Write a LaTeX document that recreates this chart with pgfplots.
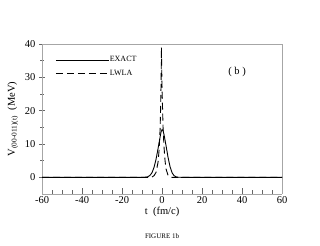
\documentclass[border=0pt]{standalone}
\usepackage{fontspec}
\setmainfont{Liberation Serif}
\usepackage{pgfplots}
\pgfplotsset{compat=1.18}
\begin{document}
\begin{tikzpicture}
\begin{axis}[
  scale only axis, width=240pt, height=150pt,
  xmin=-60, xmax=60, ymin=-5, ymax=40,
  xtick={-60,-40,...,60}, ytick={0,10,...,40},
  minor x tick num=3, minor y tick num=1,
  axis x line*=bottom, axis y line*=left,
  axis line style={gray!70, line width=0.8pt},
  tick style={gray!80!black, line width=0.6pt},
  xtick align=inside, ytick align=center,
  major tick length=6pt, minor tick length=4pt,
  /pgf/number format/assume math mode=true,
  ticklabel style={font=\fontsize{10.5}{12}\selectfont},
  xticklabel style={yshift=1pt},
  xlabel={t\ \ (fm/c)}, ylabel={V\textsubscript{(00-011)(t)}\ \ (MeV)},
  label style={font=\fontsize{10.5}{12}\selectfont},
  xlabel style={yshift=3pt},
  ylabel style={yshift=0pt},
  clip=false,
  legend cell align=left,
  legend style={draw=none, fill=none, at={(rel axis cs:0.055,0.93)}, anchor=north west, font=\fontsize{8}{9}\selectfont, row sep=3pt, inner sep=0pt, nodes={inner xsep=0.5pt}},
  legend image code/.code={\draw[#1] (0pt,0pt) -- (53pt,0pt);},
]
\path[draw=none] (rel axis cs:-0.175,-0.34) rectangle (rel axis cs:1.158,1.293);
\draw[gray!70, line width=0.8pt] (rel axis cs:0,1) -- (rel axis cs:1,1) -- (rel axis cs:1,0);
\addplot[black, line width=0.9pt] coordinates {
(-60,0) (-10,0) (-8,0.05) (-7,0.2) (-6,0.6) (-5,1.4) (-4,3.0) (-3,5.4) (-2,8.6) (-1,12.0) (-0.5,13.6) (0,14.3) (0.5,14.0) (1,12.8) (2,9.5) (3,6.0) (4,3.2) (5,1.4) (6,0.5) (7,0.15) (8,0.03) (10,0) (60,0)};
\addlegendentry{EXACT}
\addplot[black, line width=0.9pt, dash pattern=on 7pt off 4pt] coordinates {
(-60,0) (-6,0) (-5,0.1) (-4,0.5) (-3,1.5) (-2,4.5) (-1.5,8) (-1,14) (-0.7,21) (-0.5,28) (-0.3,39) (-0.1,30) (0.2,22) (0.5,15) (1,9) (1.5,5) (2,2.5) (3,0.6) (4,0.1) (5,0) (60,0)};
\addlegendentry{LWLA}
\node[font=\fontsize{10.5}{12}\selectfont] at (rel axis cs:0.8125,0.813) {( b )};
\node[font=\fontsize{7}{8}\selectfont] at (rel axis cs:0.5,-0.28) {FIGURE 1b};
\end{axis}
\end{tikzpicture}
\end{document}
